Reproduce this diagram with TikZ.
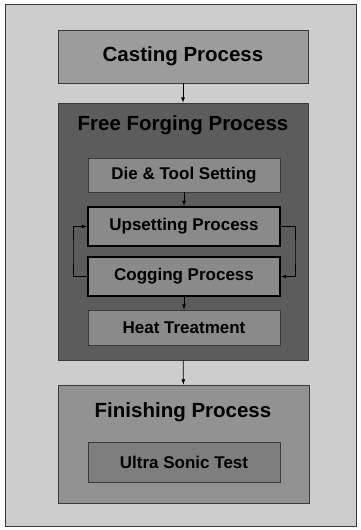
\documentclass[tikz,border=0pt]{standalone}
\usepackage{fontspec}
\setmainfont{Liberation Sans}
\usetikzlibrary{arrows}

\definecolor{bgGray}{HTML}{CDCDCD}
\definecolor{castGray}{HTML}{9C9C9C}
\definecolor{forgeGray}{HTML}{5C5C5C}
\definecolor{stepGray}{HTML}{8A8A8A}
\definecolor{finGray}{HTML}{929292}
\definecolor{testGray}{HTML}{7E7E7E}
\definecolor{edgeGray}{HTML}{3A3A3A}

\tikzset{
	Box/.style = {draw=edgeGray, line width=0.8pt, inner sep=0pt, font=\fontsize{20.5}{24}\selectfont\bfseries},
	SubBox/.style = {Box, fill=stepGray, minimum width=192, minimum height=35, font=\fontsize{17}{20}\selectfont\bfseries},
	LoopBox/.style = {SubBox, draw=black, line width=2pt, minimum height=39},
	Title/.style = {inner sep=0pt, font=\fontsize{20.5}{24}\selectfont\bfseries},
	Flow/.style = {->, >=latex, line width=0.8pt, black}
}

\begin{document}
\begin{tikzpicture}[x=1pt, y=-1pt]
		\useasboundingbox (0,0) rectangle (360,530);
		\draw[fill=bgGray, draw=edgeGray, line width=1pt] (5,4) rectangle (356,526);
		\node[Box, fill=castGray, minimum width=250, minimum height=53] (casting) at (183,56.5) {Casting Process};
		\node[Box, fill=forgeGray, minimum width=250, minimum height=257] (forging) at (183,231.5) {};
		\node[Title] (forgingTitle) at (183,125) {Free Forging Process};
		\node[SubBox, minimum height=34] (die) at (184,175) {Die \& Tool Setting};
		\node[LoopBox] (upsetting) at (184,226.5) {Upsetting Process};
		\node[LoopBox] (cogging) at (184,276.5) {Cogging Process};
		\node[SubBox] (heat) at (184,327.5) {Heat Treatment};
		\node[Box, fill=finGray, minimum width=251, minimum height=118] (finishing) at (183.5,444) {};
		\node[Title] (finishingTitle) at (183,412) {Finishing Process};
		\node[SubBox, fill=testGray, minimum height=40] (ultra) at (184,462) {Ultra Sonic Test};
		\coordinate (loopRight) at (295,252);
		\coordinate (loopLeft) at (73,252);
	%	flow between the stages
		\draw[Flow] (casting) -- (forging);
		\draw[Flow] (die) -- (upsetting);
		\draw[Flow] (cogging) -- (heat);
		\draw[Flow] (forging) -- (finishing);
		\draw[Flow] (upsetting.east) -| (loopRight) |- (cogging.east);
		\draw[Flow] (cogging.west) -| (loopLeft) |- (upsetting.west);
	\end{tikzpicture}
\end{document}
